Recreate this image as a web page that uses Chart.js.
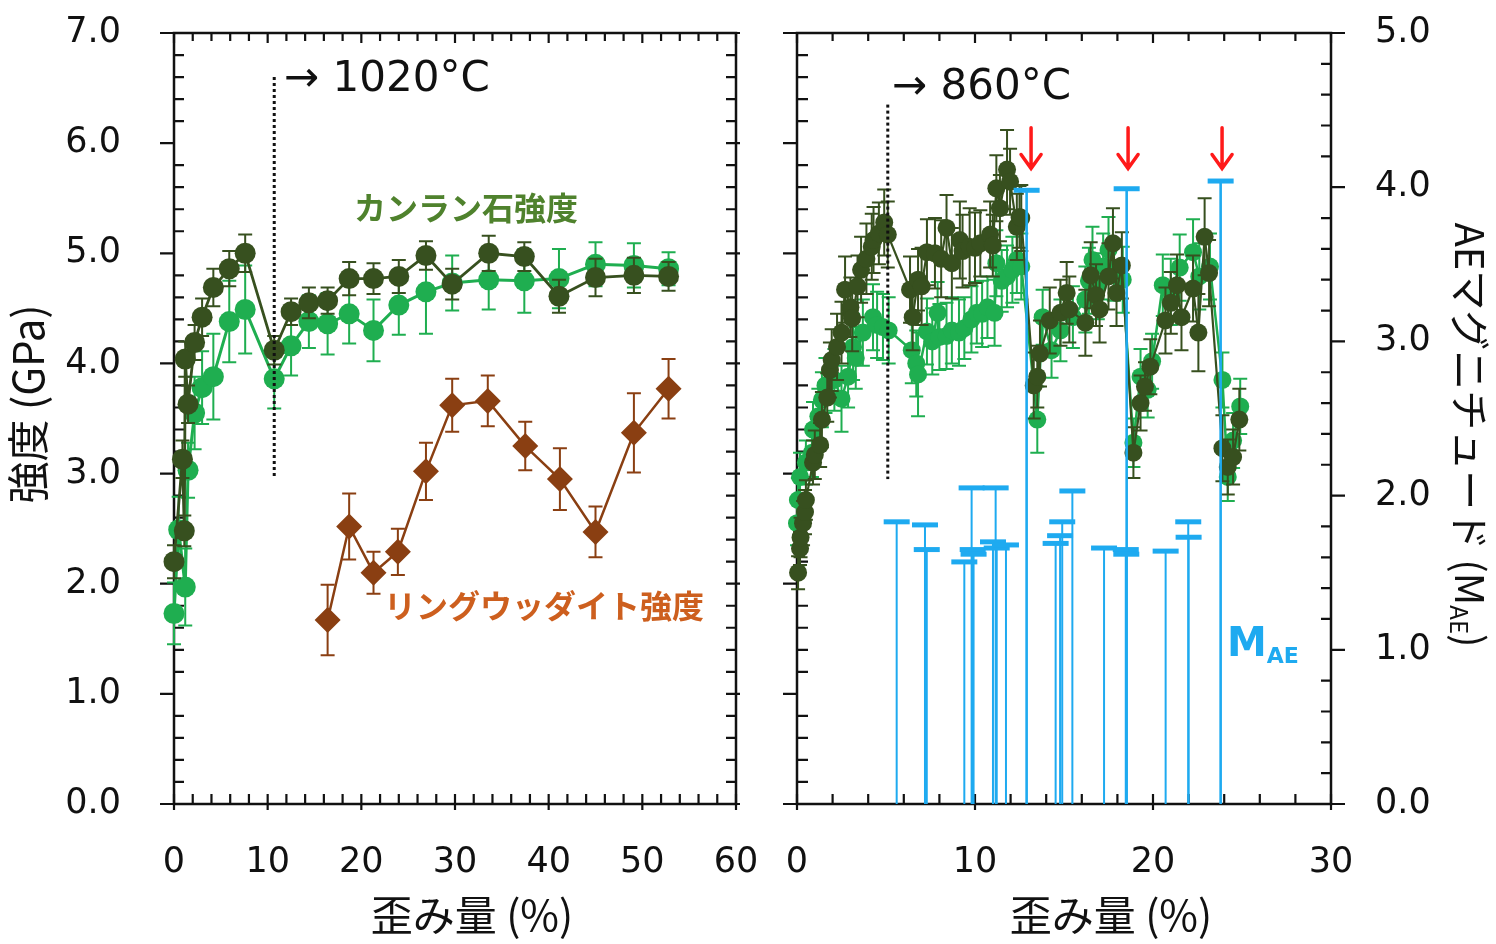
<!DOCTYPE html>
<html><head><meta charset="utf-8">
<script src="https://cdn.jsdelivr.net/npm/chart.js@4.4.1/dist/chart.umd.min.js"></script>
<style>
html,body{margin:0;padding:0;background:#fff;width:1496px;height:944px;overflow:hidden;}
canvas{position:absolute;top:0;}
#c1{left:0;}
#c2{left:760px;}
</style></head><body>
<canvas id="c1" width="760" height="944"></canvas>
<canvas id="c2" width="736" height="944"></canvas>
<script>
// ---------- Left panel (1020°C) ----------
const leftOlivDarkX = [0,0.9,1.1,1.2,1.5,2.2,3.0,4.2,5.9,7.6,10.7,12.5,14.4,16.4,18.7,21.3,24.0,26.9,29.7,33.6,37.4,41.1,45.0,49.1,52.8];
const leftOlivDarkY = [2.20,3.13,2.48,4.04,3.63,4.19,4.42,4.69,4.86,5.00,4.12,4.47,4.55,4.57,4.77,4.77,4.79,4.98,4.72,5.00,4.97,4.61,4.78,4.80,4.79];
const leftOlivDarkErr = [0.15,0.17,0.14,0.16,0.17,0.16,0.17,0.17,0.16,0.17,0.13,0.12,0.14,0.12,0.15,0.14,0.15,0.13,0.14,0.16,0.13,0.15,0.17,0.16,0.13];

const leftOlivLightX = [0,0.5,1.2,1.5,2.2,3.0,4.2,5.9,7.6,10.7,12.5,14.4,16.4,18.7,21.3,24.0,26.9,29.7,33.6,37.4,41.1,45.0,49.1,52.8];
const leftOlivLightY = [1.73,2.49,1.97,3.03,3.55,3.78,3.88,4.38,4.49,3.86,4.16,4.38,4.36,4.45,4.30,4.53,4.65,4.73,4.76,4.75,4.77,4.90,4.89,4.86];
const leftOlivLightErr = [0.28,0.3,0.35,0.25,0.33,0.33,0.39,0.37,0.4,0.27,0.27,0.24,0.28,0.27,0.28,0.27,0.38,0.25,0.27,0.29,0.27,0.2,0.2,0.15];

const leftRingX = [16.4,18.7,21.3,23.9,26.9,29.7,33.5,37.5,41.2,45.0,49.1,52.8];
const leftRingY = [1.67,2.52,2.10,2.29,3.02,3.62,3.66,3.25,2.95,2.47,3.37,3.77];
const leftRingErr = [0.32,0.3,0.19,0.21,0.26,0.24,0.23,0.22,0.28,0.23,0.36,0.27];

// ---------- Right panel (860°C) ----------
const rightOlivDarkX = [0.06,0.17,0.2,0.34,0.45,0.5,0.9,1.0,1.3,1.4,1.7,1.85,1.95,2.25,2.5,2.7,3.0,3.1,3.4,3.6,3.9,4.2,4.3,4.6,4.9,5.1,
  6.35,6.5,6.8,7.0,7.3,7.75,8.1,8.4,8.7,9.15,9.3,9.7,10.0,10.3,10.85,11.0,11.2,11.4,11.8,11.97,12.35,12.5,12.6,
  13.3,13.5,13.65,14.2,14.8,15.15,15.3,16.2,16.5,16.8,17.0,17.5,17.75,17.95,18.25,
  18.9,19.3,19.55,19.85,20.7,21.0,21.35,21.6,22.25,22.55,22.9,23.15,
  23.9,24.2,24.5,24.85];
const rightOlivDarkY = [2.10,2.32,2.42,2.55,2.65,2.76,3.10,3.17,3.26,3.49,3.69,3.94,4.03,4.15,4.28,4.67,4.51,4.41,4.70,4.85,4.95,5.06,5.12,5.18,5.28,5.17,
  4.67,4.42,4.76,4.70,5.01,5.00,4.95,5.23,4.91,5.12,5.02,5.06,5.05,5.09,5.17,5.07,5.59,5.41,5.76,5.65,5.24,5.33,5.32,
  3.80,3.88,4.09,4.39,4.46,4.64,4.49,4.37,4.80,4.62,4.49,4.79,5.09,4.64,4.89,
  3.19,3.64,3.79,3.97,4.39,4.55,4.71,4.42,4.68,4.28,5.15,4.82,
  3.23,3.06,3.15,3.49];
const rightOlivDarkErr = [0.15,0.15,0.18,0.2,0.2,0.18,0.2,0.22,0.2,0.25,0.22,0.25,0.28,0.3,0.28,0.3,0.27,0.3,0.28,0.3,0.32,0.3,0.3,0.28,0.3,0.3,
  0.3,0.3,0.28,0.35,0.3,0.32,0.35,0.3,0.32,0.35,0.33,0.35,0.32,0.3,0.3,0.28,0.3,0.3,0.36,0.3,0.3,0.28,0.3,
  0.3,0.28,0.3,0.3,0.3,0.28,0.3,0.3,0.3,0.28,0.3,0.3,0.32,0.3,0.3,
  0.23,0.25,0.22,0.25,0.3,0.28,0.28,0.3,0.3,0.35,0.35,0.3,
  0.3,0.25,0.25,0.28];

const rightOlivLightX = [0.0,0.05,0.17,0.5,0.84,0.9,1.2,1.4,1.6,2.1,2.5,2.87,3.15,3.3,3.7,4.27,4.5,4.83,5.15,
  6.45,6.7,6.8,7.3,7.6,7.9,8.0,8.4,8.7,9.1,9.4,9.8,10.1,10.4,10.7,11.1,11.2,11.5,11.8,12.1,12.35,12.6,
  13.5,13.8,14.3,14.8,15.5,16.2,16.4,16.6,16.9,17.2,17.5,17.8,18.3,
  18.9,19.3,19.7,19.95,20.55,21.0,21.5,22.25,22.6,23.2,
  23.9,24.2,24.5,24.9];
const rightOlivLightY = [2.55,2.76,2.97,3.10,3.19,3.40,3.52,3.67,3.80,3.85,3.68,3.88,4.15,4.05,4.28,4.42,4.35,4.33,4.30,
  4.12,4.00,3.90,4.29,4.20,4.46,4.24,4.25,4.30,4.28,4.32,4.40,4.46,4.45,4.51,4.46,4.91,4.75,4.79,4.85,4.94,4.88,
  3.49,4.42,4.12,4.30,4.42,4.58,4.75,4.94,4.70,4.88,5.03,4.85,4.76,
  3.28,3.88,3.76,4.02,4.71,4.65,4.87,5.01,4.79,4.88,
  3.85,2.97,3.30,3.61];
const rightOlivLightErr = [0.2,0.2,0.22,0.2,0.22,0.25,0.25,0.25,0.25,0.28,0.3,0.28,0.3,0.28,0.3,0.3,0.3,0.3,0.3,
  0.3,0.3,0.38,0.3,0.3,0.28,0.3,0.3,0.3,0.3,0.28,0.3,0.28,0.3,0.28,0.3,0.3,0.28,0.28,0.3,0.3,0.3,
  0.3,0.25,0.25,0.28,0.28,0.3,0.3,0.3,0.3,0.3,0.3,0.28,0.3,
  0.22,0.25,0.25,0.25,0.28,0.3,0.3,0.3,0.3,0.3,
  0.25,0.22,0.25,0.25];

const maeX = [5.60,7.19,7.29,9.40,9.81,9.87,9.92,11.01,11.16,11.22,11.74,12.90,14.53,14.78,14.90,15.47,17.25,18.47,18.50,18.52,20.71,21.98,22.00,23.80];
const maeY = [1.83,1.81,1.65,1.57,2.05,1.65,1.62,1.70,2.05,1.66,1.68,3.98,1.69,1.74,1.83,2.03,1.66,1.65,1.62,3.99,1.64,1.83,1.73,4.04];

const yTickLabels = ['0.0','1.0','2.0','3.0','4.0','5.0','6.0','7.0'];
const maeTickLabels = ['0.0','1.0','2.0','3.0','4.0','5.0'];
const arrowX = [13.15, 18.6, 23.88];

// ---------- colours ----------
const DARK = '#37501f', LIGHT = '#1fae50', BROWN = '#8a3f12', BLUE = '#1eaaf0';
const TICKFONT = {family:'DejaVu Sans', size:35};
const CJK = '"Noto Sans CJK JP"';

const zip = (xs, ys) => xs.map((x,i)=>({x, y: ys[i]}));

// ---------- plugins ----------
const errorBars = {
  id:'errorBars',
  beforeDatasetDraw(chart, args){
    const ds = chart.data.datasets[args.index];
    if(!ds.errors) return;
    const ctx = chart.ctx, ys = chart.scales[args.meta.yAxisID];
    ctx.save();
    ctx.strokeStyle = ds.borderColor; ctx.lineWidth = ds.errWidth || 2;
    const cw = ds.capW || 7;
    ds.data.forEach((d,i)=>{
      const e = ds.errors[i]; const x = args.meta.data[i].x;
      const t = ys.getPixelForValue(d.y+e), b = ys.getPixelForValue(d.y-e);
      ctx.beginPath();
      ctx.moveTo(x,t); ctx.lineTo(x,b);
      ctx.moveTo(x-cw,t); ctx.lineTo(x+cw,t);
      ctx.moveTo(x-cw,b); ctx.lineTo(x+cw,b);
      ctx.stroke();
    });
    ctx.restore();
  }
};

const stems = {
  id:'stems',
  beforeDatasetDraw(chart, args){
    const ds = chart.data.datasets[args.index];
    if(!ds.stems) return;
    const ctx = chart.ctx, ys = chart.scales[args.meta.yAxisID];
    const y0 = ys.getPixelForValue(0);
    ctx.save(); ctx.strokeStyle = BLUE;
    args.meta.data.forEach((pt,i)=>{
      ctx.lineWidth = ds.data[i].y > 3 ? 2.6 : 2;
      ctx.beginPath(); ctx.moveTo(pt.x, y0); ctx.lineTo(pt.x, pt.y); ctx.stroke();
    });
    ctx.restore();
  }
};

function drawSideTicks(ctx, ca, scale, side, c){
  const n = Math.round((scale.max - scale.min)/c.minor);
  ctx.beginPath();
  for(let i=0;i<=n;i++){
    const v = scale.min + i*c.minor;
    const r = v/c.major, isMaj = Math.abs(r-Math.round(r))<1e-6;
    const p = scale.getPixelForValue(v);
    const inL = isMaj ? c.majIn : c.minIn, outL = isMaj ? c.majOut : 0;
    if(side==='left'){ ctx.moveTo(ca.left-outL,p); ctx.lineTo(ca.left+inL,p); }
    if(side==='right'){ ctx.moveTo(ca.right+outL,p); ctx.lineTo(ca.right-inL,p); }
    if(side==='bottom'){ ctx.moveTo(p,ca.bottom+outL); ctx.lineTo(p,ca.bottom-inL); }
    if(side==='top'){ ctx.moveTo(p,ca.top-outL); ctx.lineTo(p,ca.top+inL); }
  }
  ctx.stroke();
}

const frame = {
  id:'frame',
  beforeDatasetsDraw(chart, args, opts){
    const ctx = chart.ctx, ca = chart.chartArea;
    ctx.save();
    ctx.strokeStyle = '#111'; ctx.lineWidth = 2.5;
    ctx.strokeRect(ca.left, ca.top, ca.right-ca.left, ca.bottom-ca.top);
    ctx.lineWidth = 2.2;
    (opts.sides||[]).forEach(s=> drawSideTicks(ctx, ca, chart.scales[s.scale], s.side, s));
    ctx.restore();
  }
};

function txt(ctx, s, x, y, font, color, align, rot){
  ctx.save(); ctx.translate(x,y); ctx.rotate(rot||0);
  ctx.font = font; ctx.fillStyle = color; ctx.textAlign = align||'left'; ctx.textBaseline = 'middle';
  ctx.fillText(s,0,0); ctx.restore();
}

function dotted(chart, xv, y1, y2){
  const ctx = chart.ctx, xs = chart.scales.x, ys = chart.scales.y;
  const x = xs.getPixelForValue(xv);
  ctx.save(); ctx.strokeStyle = '#111'; ctx.lineWidth = 3; ctx.setLineDash([3,3]);
  ctx.beginPath(); ctx.moveTo(x, ys.getPixelForValue(y2)); ctx.lineTo(x, ys.getPixelForValue(y1)); ctx.stroke();
  ctx.restore();
}

const leftDecor = {
  id:'leftDecor',
  afterDraw(chart){
    const ctx = chart.ctx;
    dotted(chart, 10.7, 2.95, 6.6);
    txt(ctx, '→ 1020°C', 284, 80, '42px "DejaVu Sans"', '#111');
    txt(ctx, 'カンラン石強度', 354, 208, 'bold 32px '+CJK, '#4f822d');
    txt(ctx, 'リングウッダイト強度', 384, 606, 'bold 32px '+CJK, '#cd5f1e');
    txt(ctx, '強度 (GPa)', 28, 404, '42px '+CJK, '#111', 'center', -Math.PI/2);
    txt(ctx, '歪み量 (%)', 472, 915, '42px '+CJK, '#111', 'center');
  }
};

const rightDecor = {
  id:'rightDecor',
  afterDraw(chart){
    const ctx = chart.ctx, xs = chart.scales.x, ys = chart.scales.y;
    dotted(chart, 5.1, 2.95, 6.35);
    txt(ctx, '→ 860°C', 132, 88, '42px "DejaVu Sans"', '#111');
    txt(ctx, '歪み量 (%)', 351, 915, '42px '+CJK, '#111', 'center');
    // red arrows
    ctx.save(); ctx.strokeStyle = '#ff1a1a'; ctx.lineWidth = 3.5; ctx.lineCap = 'round';
    arrowX.forEach(v=>{
      const x = xs.getPixelForValue(v);
      const t = ys.getPixelForValue(6.14), b = ys.getPixelForValue(5.77);
      ctx.beginPath(); ctx.moveTo(x,t); ctx.lineTo(x,b);
      ctx.moveTo(x-10,b-14); ctx.lineTo(x,b); ctx.lineTo(x+10,b-14); ctx.stroke();
    });
    ctx.restore();
    // MAE label
    ctx.save(); ctx.fillStyle = BLUE; ctx.textBaseline = 'alphabetic';
    ctx.font = 'bold 40px "DejaVu Sans"'; ctx.fillText('M', 467, 656);
    const mw = ctx.measureText('M').width;
    ctx.font = 'bold 22px "DejaVu Sans"'; ctx.fillText('AE', 467+mw, 663);
    ctx.restore();
    // right axis title (rotated clockwise) with subscript
    ctx.save(); ctx.translate(710, 435); ctx.rotate(Math.PI/2);
    ctx.fillStyle = '#111'; ctx.textBaseline = 'middle';
    const f1 = '40px '+CJK, f2 = '24px '+CJK;
    ctx.font = f1; const a = 'AEマグニチュード (M', c = ')';
    const wa = ctx.measureText(a).width, wc = ctx.measureText(c).width;
    ctx.font = f2; const wb = ctx.measureText('AE').width;
    let x0 = -(wa+wb+wc)/2;
    ctx.font = f1; ctx.fillText(a, x0, 0);
    ctx.font = f2; ctx.fillText('AE', x0+wa, 11);
    ctx.font = f1; ctx.fillText(c, x0+wa+wb, 0);
    ctx.restore();
  }
};

// grid hidden; tickLength only sets the gap between spine and labels
const baseScale = (gap, opts) => Object.assign({
  type:'linear', grid:{display:false, drawTicks:true, tickLength:gap}, border:{display:false}
}, opts);

const common = {
  responsive:false, animation:false, devicePixelRatio:1,
  plugins:{legend:{display:false}, tooltip:{enabled:false}}
};

function lineDs(label, xs, ys, errs, color, opts){
  return Object.assign({
    label, data: zip(xs, ys), errors: errs, showLine:true, clip:false,
    borderColor: color, backgroundColor: color, pointBackgroundColor: color,
    pointBorderColor: color, pointBorderWidth: 0, tension:0
  }, opts);
}

// ---------- left chart ----------
new Chart(document.getElementById('c1'), {
  type:'scatter',
  data:{datasets:[
    lineDs('カンラン石強度 (dark)', leftOlivDarkX, leftOlivDarkY, leftOlivDarkErr, DARK, {borderWidth:2.8, pointRadius:10.5, capW:7}),
    lineDs('カンラン石強度 (light)', leftOlivLightX, leftOlivLightY, leftOlivLightErr, LIGHT, {borderWidth:3, pointRadius:10.5, capW:7}),
    lineDs('リングウッダイト強度', leftRingX, leftRingY, leftRingErr, BROWN, {borderWidth:2.5, pointRadius:13, pointStyle:'rectRot', capW:7})
  ]},
  options:Object.assign({}, common, {
    layout:{padding:{left:0,right:24,top:33,bottom:0}},
    scales:{
      x: baseScale(38, {position:'bottom', min:0, max:60,
        ticks:{stepSize:10, font:TICKFONT, color:'#111', padding:0, maxRotation:0},
        afterFit(s){ s.height = 140; }}),
      y: baseScale(53, {position:'left', min:0, max:7,
        ticks:{stepSize:1, font:TICKFONT, color:'#111', padding:0, callback:(v)=>yTickLabels[Math.round(v)]},
        afterFit(s){ s.width = 174; }})
    },
    plugins:Object.assign({}, common.plugins, {frame:{sides:[
      {scale:'y', side:'left', major:1, minor:0.2, majIn:0, majOut:14, minIn:10},
      {scale:'y', side:'right', major:1, minor:0.2, majIn:10, majOut:4, minIn:10},
      {scale:'x', side:'bottom', major:10, minor:2, majIn:10, majOut:6, minIn:10},
      {scale:'x', side:'top', major:10, minor:2, majIn:10, majOut:0, minIn:8}
    ]}})
  }),
  plugins:[frame, errorBars, leftDecor]
});

// ---------- right chart ----------
new Chart(document.getElementById('c2'), {
  type:'scatter',
  data:{datasets:[
    {label:'MAE', data: zip(maeX, maeY), yAxisID:'y2', stems:true, showLine:false, clip:false,
     pointStyle:'line', pointRadius:13, pointBorderWidth:5, pointBorderColor:BLUE, pointBackgroundColor:BLUE, borderColor:BLUE},
    lineDs('カンラン石強度 (dark)', rightOlivDarkX, rightOlivDarkY, rightOlivDarkErr, DARK, {borderWidth:2.2, pointRadius:9, capW:7}),
    lineDs('カンラン石強度 (light)', rightOlivLightX, rightOlivLightY, rightOlivLightErr, LIGHT, {borderWidth:2.5, pointRadius:9, capW:7})
  ]},
  options:Object.assign({}, common, {
    layout:{padding:{left:0,right:0,top:33,bottom:0}},
    scales:{
      x: baseScale(38, {position:'bottom', min:0, max:30,
        ticks:{stepSize:10, font:TICKFONT, color:'#111', padding:0, maxRotation:0},
        afterFit(s){ s.height = 140; }}),
      y: baseScale(0, {position:'left', min:0, max:7, ticks:{display:false, stepSize:1, padding:0},
        afterFit(s){ s.width = 37; }}),
      y2: baseScale(44, {position:'right', min:0, max:5,
        ticks:{stepSize:1, font:TICKFONT, color:'#111', padding:0, callback:(v)=>maeTickLabels[Math.round(v)]},
        afterFit(s){ s.width = 165; }})
    },
    plugins:Object.assign({}, common.plugins, {frame:{sides:[
      {scale:'y', side:'left', major:1, minor:0.2, majIn:0, majOut:14, minIn:11},
      {scale:'y2', side:'right', major:1, minor:0.2, majIn:0, majOut:14, minIn:10},
      {scale:'x', side:'bottom', major:10, minor:2, majIn:10, majOut:6, minIn:10},
      {scale:'x', side:'top', major:10, minor:2, majIn:10, majOut:0, minIn:8}
    ]}})
  }),
  plugins:[frame, errorBars, stems, rightDecor]
});
</script>
</body></html>
